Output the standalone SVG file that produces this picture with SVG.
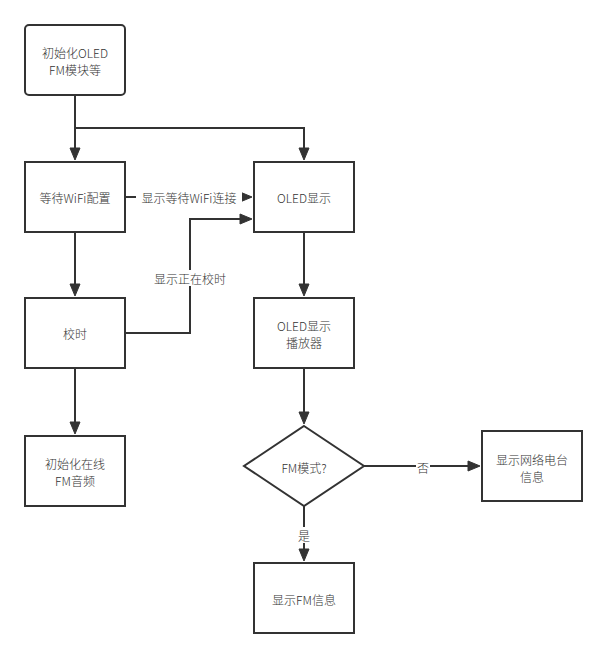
<svg xmlns="http://www.w3.org/2000/svg" width="607" height="657" viewBox="0 0 607 657">
<style>
.box{fill:#fff;stroke:#333;stroke-width:2}
.t{font-family:"Noto Sans CJK SC","Liberation Sans",sans-serif;font-size:12px;font-weight:300;fill:#333;text-anchor:middle;dominant-baseline:central}
.c{fill:none;stroke:#333;stroke-width:2}
.lbl{fill:#fff}
</style>
<defs>
<marker id="arr" markerUnits="userSpaceOnUse" markerWidth="14" markerHeight="12" refX="1" refY="5" orient="auto" overflow="visible">
<path d="M0,0 L12,5 L0,10 z" fill="#333" stroke="#333" stroke-width="1"/>
</marker>
</defs>
<rect width="607" height="657" fill="#fff"/>
<g id="connectors">
<path class="c" d="M75,95 V149" marker-end="url(#arr)"/>
<path class="c" d="M75,128 H304 V149" marker-end="url(#arr)"/>
<path class="c" d="M125,197 H241" marker-end="url(#arr)"/>
<path class="c" d="M75,232 V285" marker-end="url(#arr)"/>
<path class="c" d="M125,333 H190 V219 H241" marker-end="url(#arr)"/>
<path class="c" d="M75,368 V423" marker-end="url(#arr)"/>
<path class="c" d="M304,232 V285" marker-end="url(#arr)"/>
<path class="c" d="M304,368 V413" marker-end="url(#arr)"/>
<path class="c" d="M364,466 H469" marker-end="url(#arr)"/>
<path class="c" d="M304,506 V550" marker-end="url(#arr)"/>
<rect class="lbl" x="136" y="189" width="106" height="16"/>
<text class="t" x="189" y="197">显示等待WiFi连接</text>
<rect class="lbl" x="150" y="270" width="80" height="16"/>
<text class="t" x="190" y="278">显示正在校时</text>
<rect class="lbl" x="416" y="459" width="14" height="16"/>
<text class="t" x="423" y="467">否</text>
<rect class="lbl" x="297" y="527" width="14" height="16"/>
<text class="t" x="304" y="535">是</text>
</g>
<g id="init">
<rect class="box" x="25" y="25" width="100" height="70" rx="4"/>
<text class="t" x="75" y="52">初始化OLED</text>
<text class="t" x="75" y="69">FM模块等</text>
</g>
<g id="wifi">
<rect class="box" x="25" y="162" width="100" height="70"/>
<text class="t" x="75" y="197">等待WiFi配置</text>
</g>
<g id="oled">
<rect class="box" x="254" y="162" width="100" height="70"/>
<text class="t" x="304" y="197">OLED显示</text>
</g>
<g id="sync">
<rect class="box" x="25" y="298" width="100" height="70"/>
<text class="t" x="75" y="333">校时</text>
</g>
<g id="player">
<rect class="box" x="254" y="298" width="100" height="70"/>
<text class="t" x="304" y="325">OLED显示</text>
<text class="t" x="304" y="342">播放器</text>
</g>
<g id="initfm">
<rect class="box" x="25" y="436" width="100" height="70"/>
<text class="t" x="75" y="463">初始化在线</text>
<text class="t" x="75" y="480">FM音频</text>
</g>
<g id="decision">
<path class="box" d="M304,426 L364,466 L304,506 L244,466 Z"/>
<text class="t" x="304" y="467">FM模式?</text>
</g>
<g id="netradio">
<rect class="box" x="482" y="431" width="100" height="70"/>
<text class="t" x="532" y="459">显示网络电台</text>
<text class="t" x="532" y="476">信息</text>
</g>
<g id="fminfo">
<rect class="box" x="254" y="563" width="100" height="70"/>
<text class="t" x="304" y="599">显示FM信息</text>
</g>
</svg>
